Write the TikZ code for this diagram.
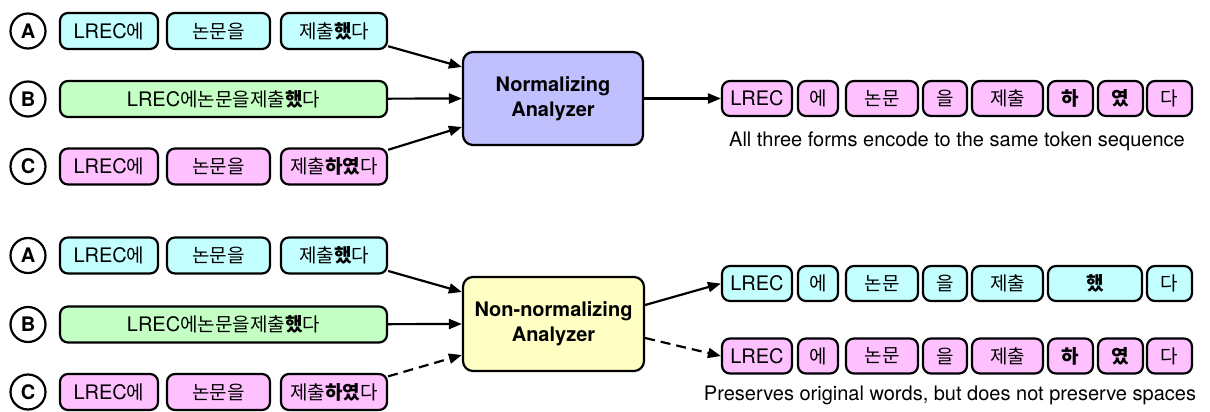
\documentclass[tikz,border=0pt]{standalone}
\usepackage{fontspec}
\setmainfont{TeX Gyre Heros}
\newfontfamily\krfont{Noto Sans CJK KR}[Scale=0.95]
\newcommand\K[1]{{\krfont #1}}
\newcommand\KB[1]{{\krfont\bfseries #1}}
\usetikzlibrary{arrows.meta}
\definecolor{cyanfill}{RGB}{196,255,255}
\definecolor{greenfill}{RGB}{196,255,196}
\definecolor{pinkfill}{RGB}{255,192,255}
\definecolor{bluefill}{RGB}{192,192,255}
\definecolor{yellowfill}{RGB}{255,255,196}
\begin{document}
\begin{tikzpicture}[x=1pt,y=-1pt,
  every node/.style={font=\fontsize{20}{24}\selectfont},
  box/.style={draw, line width=2.2pt, rounded corners=8pt, minimum height=36pt, inner sep=0pt},
  tok/.style={box, minimum height=35pt},
  tag/.style={draw, circle, line width=2.2pt, minimum size=35pt, inner sep=0pt,
    font=\fontsize{20}{24}\selectfont\bfseries},
  engine/.style={draw, line width=2.2pt, rounded corners=10pt, inner sep=0pt, align=center,
    font=\fontsize{20}{25}\selectfont\bfseries},
  link/.style={line width=2.2pt, -{Triangle[length=13pt,width=10pt]}},
]
\useasboundingbox (0,0) rectangle (1210,412);

% ---------- upper half: normalizing analyzer ----------
\node[tag] (ta) at (28,31) {A};
\node[tag] (tb) at (28,99) {B};
\node[tag] (tc) at (28,166.5) {C};

\node[box, fill=cyanfill, minimum width=98pt]  (a1) at (109,31)   {LREC\K{에}};
\node[box, fill=cyanfill, minimum width=103pt] (a2) at (218.5,31) {\K{논문을}};
\node[box, fill=cyanfill, minimum width=106pt] (a3) at (334,31)   {\K{제출}\KB{했}\K{다}};

\node[box, fill=greenfill, minimum width=327pt] (b1) at (223.5,99) {LREC\K{에논문을제출}\KB{했}\K{다}};

\node[box, fill=pinkfill, minimum width=98pt]  (c1) at (109,166.5)   {LREC\K{에}};
\node[box, fill=pinkfill, minimum width=103pt] (c2) at (218.5,166.5) {\K{논문을}};
\node[box, fill=pinkfill, minimum width=106pt] (c3) at (334,166.5)   {\K{제출}\KB{하였}\K{다}};

\node[engine, fill=bluefill, minimum width=180pt, minimum height=93pt] (norm) at (553,98.5)
  {Normalizing\\Analyzer};

\foreach \i/\cx/\w/\txt in {1/757/70/{LREC}, 2/818/40/{\K{에}}, 3/882/72/{\K{논문}},
    4/945/44/{\K{을}}, 5/1007.5/71/{\K{제출}}, 6/1070.5/45/{\KB{하}},
    7/1120.5/45/{\KB{였}}, 8/1169.5/45/{\K{다}}}
  \node[tok, fill=pinkfill, minimum width=\w pt] (t\i) at (\cx,98.5) {\txt};

\node (cap1) at (957,141) {All three forms encode to the same token sequence};

\draw[link] (a3) -- ([yshift=31.5pt]norm.west);
\draw[link] (b1) -- (norm.west);
\draw[link] (c3) -- ([yshift=-28.5pt]norm.west);
\draw[link] (norm.east) -- (t1.west);

% ---------- lower half: non-normalizing analyzer ----------
\node[tag] (sa) at (28,255.5) {A};
\node[tag] (sb) at (28,324.5) {B};
\node[tag] (sc) at (28,392) {C};

\node[box, fill=cyanfill, minimum width=98pt]  (d1) at (109,255.5)   {LREC\K{에}};
\node[box, fill=cyanfill, minimum width=103pt] (d2) at (218.5,255.5) {\K{논문을}};
\node[box, fill=cyanfill, minimum width=106pt] (d3) at (334,255.5)   {\K{제출}\KB{했}\K{다}};

\node[box, fill=greenfill, minimum width=327pt] (e1) at (223.5,324.5) {LREC\K{에논문을제출}\KB{했}\K{다}};

\node[box, fill=pinkfill, minimum width=98pt]  (f1) at (109,392)   {LREC\K{에}};
\node[box, fill=pinkfill, minimum width=103pt] (f2) at (218.5,392) {\K{논문을}};
\node[box, fill=pinkfill, minimum width=106pt] (f3) at (334,392)   {\K{제출}\KB{하였}\K{다}};

\node[engine, fill=yellowfill, minimum width=181pt, minimum height=94pt] (raw) at (553.5,324)
  {Non-normalizing\\Analyzer};

\foreach \i/\cx/\w/\txt in {1/757/70/{LREC}, 2/818/40/{\K{에}}, 3/882/72/{\K{논문}},
    4/945/44/{\K{을}}, 5/1007.5/71/{\K{제출}}, 6/1095/94/{\KB{했}},
    7/1169.5/45/{\K{다}}}
  \node[tok, fill=cyanfill, minimum width=\w pt] (u\i) at (\cx,283.5) {\txt};

\foreach \i/\cx/\w/\txt in {1/757/70/{LREC}, 2/818/40/{\K{에}}, 3/882/72/{\K{논문}},
    4/945/44/{\K{을}}, 5/1007.5/71/{\K{제출}}, 6/1070.5/45/{\KB{하}},
    7/1120.5/45/{\KB{였}}, 8/1169.5/45/{\K{다}}}
  \node[tok, fill=pinkfill, minimum width=\w pt] (v\i) at (\cx,356) {\txt};

\node (cap2) at (950,395) {Preserves original words, but does not preserve spaces};

\draw[link] (d3) -- ([yshift=32pt]raw.west);
\draw[link] (e1) -- (raw.west);
\draw[link, dash pattern=on 10pt off 6pt] (f3) -- ([yshift=-31pt]raw.west);
\draw[link] ([yshift=19pt]raw.east) -- (u1.west);
\draw[link, dash pattern=on 10pt off 6pt] ([yshift=-14pt]raw.east) -- (v1.west);
\end{tikzpicture}
\end{document}
